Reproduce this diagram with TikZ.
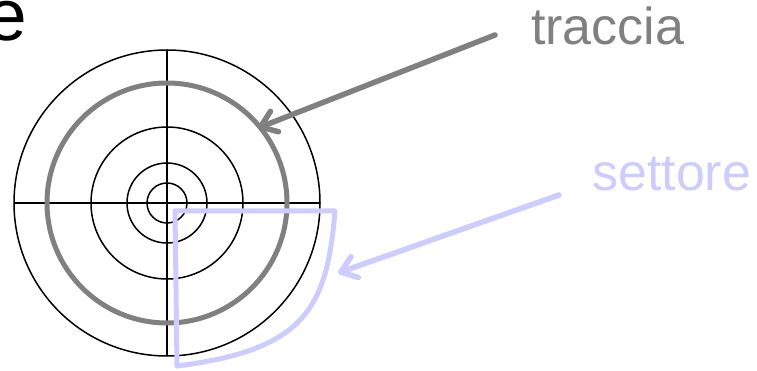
\documentclass[tikz,border=0pt]{standalone}
\usepackage{fontspec}
\setmainfont{Liberation Sans}
\usetikzlibrary{arrows.meta}
\definecolor{trackgray}{HTML}{808080}
\definecolor{sectblue}{HTML}{CCCCFF}
\tikzset{
  thin line/.style={draw=black, line width=1.5pt},
  track line/.style={draw=trackgray, line width=5pt},
  sector line/.style={draw=sectblue, line width=5pt, line join=round},
  pointer/.style={line width=5.5pt, line cap=round,
    -{Straight Barb[length=15pt, width=22pt, round]}},
  label/.style={inner sep=0pt, anchor=base west, font=\fontsize{52}{60}\selectfont},
}
\begin{document}
\begin{tikzpicture}[x=1pt,y=-1pt]
\useasboundingbox (0,0) rectangle (757,371);
\clip (0,0) rectangle (757,371);
% title fragment
\node[inner sep=0pt, anchor=base west, font=\fontsize{73}{80}\selectfont] (title) at (-14,41) {e};
% disk
\coordinate (c) at (167,203);
\draw[thin line] (c) circle[radius=153];
\draw[thin line] (c) circle[radius=76];
\draw[thin line] (c) circle[radius=40];
\draw[thin line] (c) circle[radius=20];
\draw[thin line] (167,50) -- (167,356);
\draw[thin line] (14,203) -- (320,203);
\draw[track line] (c) circle[radius=120];
% sector
\draw[sector line] (175,211) -- (335,211) .. controls (327,308) and (305,350) .. (177,366) -- cycle;
% labels
\node[label, text=trackgray] (traccia) at (531,45) {traccia};
\node[label, text=sectblue] (settore) at (592,191) {settore};
\coordinate (trackfrom) at (495,35);
\coordinate (trackto) at (258,128);
\coordinate (sectfrom) at (559,195);
\coordinate (sectto) at (338,273);
\draw[pointer, trackgray] (trackfrom) -- (trackto);
\draw[pointer, sectblue] (sectfrom) -- (sectto);
\end{tikzpicture}
\end{document}
